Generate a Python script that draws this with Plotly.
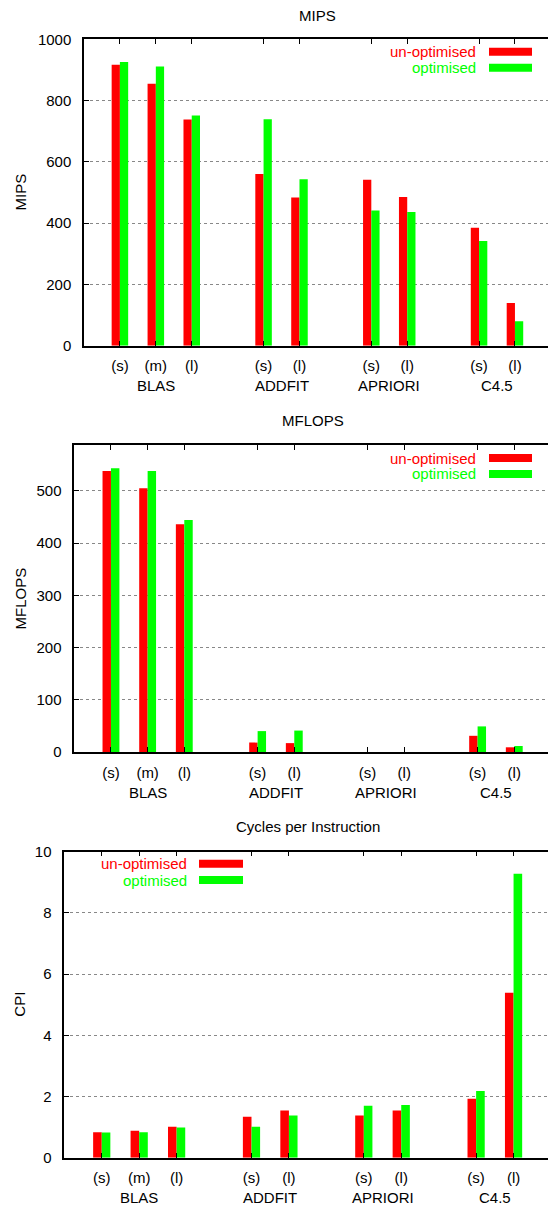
import plotly.graph_objects as go

# ---------------- data ----------------
groups = ["BLAS", "ADDFIT", "APRIORI", "C4.5"]
group_sizes = [["(s)", "(m)", "(l)"], ["(s)", "(l)"], ["(s)", "(l)"], ["(s)", "(l)"]]

series_names = ["un-optimised", "optimised"]

mips_unopt = [917, 855, 738, 560, 484, 542, 485, 385, 139]
mips_opt = [926, 911, 751, 739, 543, 441, 436, 342, 80]

mflops_unopt = [538, 505, 436, 18, 17, 0, 0, 31, 9]
mflops_opt = [543, 538, 444, 40, 41, 0, 0, 49, 11.5]

cpi_unopt = [0.83, 0.88, 1.01, 1.34, 1.54, 1.38, 1.54, 1.93, 5.39]
cpi_opt = [0.82, 0.83, 0.99, 1.01, 1.38, 1.70, 1.72, 2.18, 9.28]

titles = ["MIPS", "MFLOPS", "Cycles per Instruction"]
ylabels = ["MIPS", "MFLOPS", "CPI"]
yranges = [[0, 1000], [0, 587.7], [0, 10]]
ydticks = [200, 100, 2]

# ---------------- derived category positions ----------------
xpos, sub_labels, group_centers = [], [], []
p = 0
for subs in group_sizes:
    start = p
    for s in subs:
        xpos.append(p)
        sub_labels.append(s)
        p += 1
    group_centers.append((start + p - 1) / 2)
    p += 1  # gap slot between groups

W, H = 548, 1209
RED, GREEN = "#ff0000", "#00ff00"
FONT = "Liberation Sans, Arial, sans-serif"
FS = 15

# pixel layout of the three panels (left, top, bottom), titles, legends
panels = [
    dict(left=84, top=39.3, bottom=345.7, title_y=15, leg_text_x=478, leg_sw=(489, 532), leg_y=(51.8, 67.8)),
    dict(left=74.3, top=445, bottom=752, title_y=420.7, leg_text_x=478, leg_sw=(489, 532), leg_y=(458, 474)),
    dict(left=64.3, top=851.7, bottom=1157.7, title_y=826.7, leg_text_x=189, leg_sw=(199, 243), leg_y=(863.7, 880)),
]
data = [(mips_unopt, mips_opt), (mflops_unopt, mflops_opt), (cpi_unopt, cpi_opt)]

fig = go.Figure()
annotations = []
shapes = []

for i, (pn, (s1, s2)) in enumerate(zip(panels, data)):
    k = "" if i == 0 else str(i + 1)
    xa, ya = "x" + k, "y" + k
    for vals, col, name in [(s1, RED, series_names[0]), (s2, GREEN, series_names[1])]:
        fig.add_trace(go.Bar(x=xpos, y=vals, name=name, marker=dict(color=col, line=dict(width=0)),
                             xaxis=xa, yaxis=ya, showlegend=False, offsetgroup=name))
    xdom = [pn["left"] / W, 1]
    ydom = [1 - pn["bottom"] / H, 1 - pn["top"] / H]
    fig.update_layout(**{
        "xaxis" + k: dict(domain=xdom, anchor=ya, range=[-1, 11.92], tickvals=xpos, ticktext=sub_labels,
                          showline=True, linecolor="#000", linewidth=1.5, mirror="ticks",
                          ticks="inside", ticklen=5, tickcolor="#000", showgrid=False, zeroline=False,
                          automargin=False,
                          tickfont=dict(family=FONT, size=FS, color="#000"), ticklabelstandoff=6),
        "yaxis" + k: dict(domain=ydom, anchor=xa, range=yranges[i], dtick=ydticks[i], tick0=0,
                          showline=True, linecolor="#000", linewidth=1.5, mirror=False,
                          ticks="inside", ticklen=5, tickcolor="#000", automargin=False,
                          showgrid=True, gridcolor="#888", griddash="dot", gridwidth=1, zeroline=False,
                          tickfont=dict(family=FONT, size=FS, color="#000"), ticklabelstandoff=8),
    })
    # title
    annotations.append(dict(text=titles[i], x=5.5, xref=xa, y=1 - pn["title_y"] / H, yref="paper",
                            xanchor="center", yanchor="middle", showarrow=False,
                            font=dict(family=FONT, size=FS, color="#000")))
    # y-axis title
    annotations.append(dict(text=ylabels[i], x=20 / W, xref="paper", y=(ydom[0] + ydom[1]) / 2, yref="paper",
                            xanchor="center", yanchor="middle", textangle=-90, showarrow=False,
                            font=dict(family=FONT, size=FS, color="#000")))
    # group labels
    for g, c in zip(groups, group_centers):
        annotations.append(dict(text=g, x=c, xref=xa, y=0, yref=ya + " domain", yshift=-40,
                                xanchor="center", yanchor="middle", showarrow=False,
                                font=dict(family=FONT, size=FS, color="#000")))
    # legend (text right-aligned, swatch to the right)
    for name, col, ly in [(series_names[0], RED, pn["leg_y"][0]), (series_names[1], GREEN, pn["leg_y"][1])]:
        annotations.append(dict(text=name, x=pn["leg_text_x"] / W, xref="paper", y=1 - ly / H, yref="paper",
                                xanchor="right", yanchor="middle", showarrow=False,
                                font=dict(family=FONT, size=FS, color=col)))
        shapes.append(dict(type="rect", xref="paper", yref="paper",
                           x0=pn["leg_sw"][0] / W, x1=pn["leg_sw"][1] / W,
                           y0=1 - (ly + 4) / H, y1=1 - (ly - 4) / H,
                           fillcolor=col, line=dict(width=0)))

fig.update_layout(width=W, height=H, margin=dict(l=0, r=0, t=0, b=0, autoexpand=False),
                  barmode="group", bargap=0.54, bargroupgap=0,
                  plot_bgcolor="white", paper_bgcolor="white",
                  annotations=annotations, shapes=shapes,
                  font=dict(family=FONT, size=FS, color="#000"))

fig.write_html("out.html")
